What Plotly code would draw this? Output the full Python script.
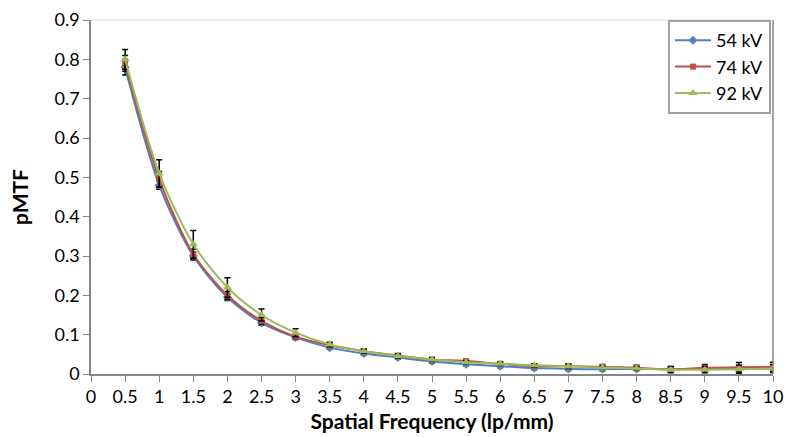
import plotly.graph_objects as go

freq = [0.5, 1, 1.5, 2, 2.5, 3, 3.5, 4, 4.5, 5, 5.5, 6, 6.5, 7, 7.5, 8, 8.5, 9, 9.5, 10]
kv54 = [0.780, 0.480, 0.300, 0.195, 0.130, 0.093, 0.067, 0.052, 0.042, 0.032, 0.025, 0.020, 0.015, 0.013, 0.012, 0.013, 0.012, 0.013, 0.013, 0.014]
kv74 = [0.790, 0.495, 0.305, 0.200, 0.135, 0.095, 0.073, 0.058, 0.047, 0.037, 0.033, 0.026, 0.020, 0.020, 0.018, 0.016, 0.012, 0.016, 0.017, 0.018]
kv92 = [0.800, 0.510, 0.330, 0.220, 0.150, 0.105, 0.075, 0.058, 0.046, 0.037, 0.030, 0.026, 0.022, 0.020, 0.016, 0.014, 0.011, 0.011, 0.012, 0.014]
err54 = [0.02, 0.01, 0.01, 0.008, 0.006, 0.005, 0.004, 0.004, 0.004, 0.004, 0.004, 0.004, 0.004, 0.004, 0.004, 0.004, 0.004, 0.004, 0.004, 0.004]
err74 = [0.02, 0.02, 0.012, 0.01, 0.008, 0.006, 0.005, 0.004, 0.004, 0.005, 0.005, 0.005, 0.005, 0.006, 0.006, 0.006, 0.006, 0.008, 0.012, 0.012]
err92 = [0.025, 0.035, 0.035, 0.025, 0.015, 0.01, 0.006, 0.005, 0.005, 0.004, 0.004, 0.004, 0.004, 0.004, 0.004, 0.004, 0.008, 0.008, 0.01, 0.01]
x_ticks = [0, 0.5, 1, 1.5, 2, 2.5, 3, 3.5, 4, 4.5, 5, 5.5, 6, 6.5, 7, 7.5, 8, 8.5, 9, 9.5, 10]
x_labels = ["0", "0.5", "1", "1.5", "2", "2.5", "3", "3.5", "4", "4.5", "5", "5.5", "6", "6.5", "7", "7.5", "8", "8.5", "9", "9.5", "10"]
y_ticks = [0, 0.1, 0.2, 0.3, 0.4, 0.5, 0.6, 0.7, 0.8, 0.9]
y_labels = ["0", "0.1", "0.2", "0.3", "0.4", "0.5", "0.6", "0.7", "0.8", "0.9"]

series = [
    ("54 kV", kv54, err54, "#4F81BD", "diamond", 7),
    ("74 kV", kv74, err74, "#C0504D", "square", 6),
    ("92 kV", kv92, err92, "#9BBB59", "triangle-up", 8),
]

fig = go.Figure()
for name, ys, es, col, sym, sz in series:
    fig.add_trace(go.Scatter(
        x=freq, y=ys, name=name, mode="lines+markers",
        line=dict(color=col, width=2, shape="spline", smoothing=0.8),
        marker=dict(color=col, symbol=sym, size=sz),
        error_y=dict(type="data", array=es, visible=True, color="black", thickness=1.5, width=3),
    ))

font = "Lato, Liberation Sans, sans-serif"
fig.update_layout(
    width=787, height=437,
    margin=dict(l=91, r=14, t=20, b=63, autoexpand=False),
    paper_bgcolor="white", plot_bgcolor="white",
    font=dict(family=font, size=18, color="black"),
    xaxis=dict(
        range=[0, 10], tickmode="array", tickvals=x_ticks, ticktext=x_labels,
        showgrid=False, zeroline=False, automargin=False,
        showline=True, linecolor="#868686", linewidth=1.5,
        ticks="outside", ticklen=6, tickcolor="#868686",
        title=dict(text="<b>Spatial Frequency (lp/mm)</b>", font=dict(size=21), standoff=8),
        tickfont=dict(size=18),
    ),
    yaxis=dict(
        range=[0, 0.9], tickmode="array", tickvals=y_ticks, ticktext=y_labels,
        showgrid=False, zeroline=False, automargin=False,
        showline=True, linecolor="#868686", linewidth=1.5,
        ticks="outside", ticklen=6, tickcolor="#868686",
        title=dict(text="<b>pMTF</b>", font=dict(size=21), standoff=20),
        tickfont=dict(size=18),
    ),
    legend=dict(
        x=0.997, y=1.0, xanchor="right", yanchor="top",
        bordercolor="#A0A0A0", borderwidth=2, bgcolor="white",
        font=dict(size=18), itemwidth=36, tracegroupgap=0,
        entrywidth=100, entrywidthmode="pixels",
    ),
    showlegend=True,
)
fig.add_shape(type="line", xref="paper", yref="paper", x0=1, x1=1, y0=0, y1=1,
              line=dict(color="#868686", width=1.5))
fig.add_shape(type="line", xref="paper", yref="paper", x0=0, x1=1, y0=1, y1=1,
              line=dict(color="#D8D8D8", width=1))

fig.write_html("out.html")
